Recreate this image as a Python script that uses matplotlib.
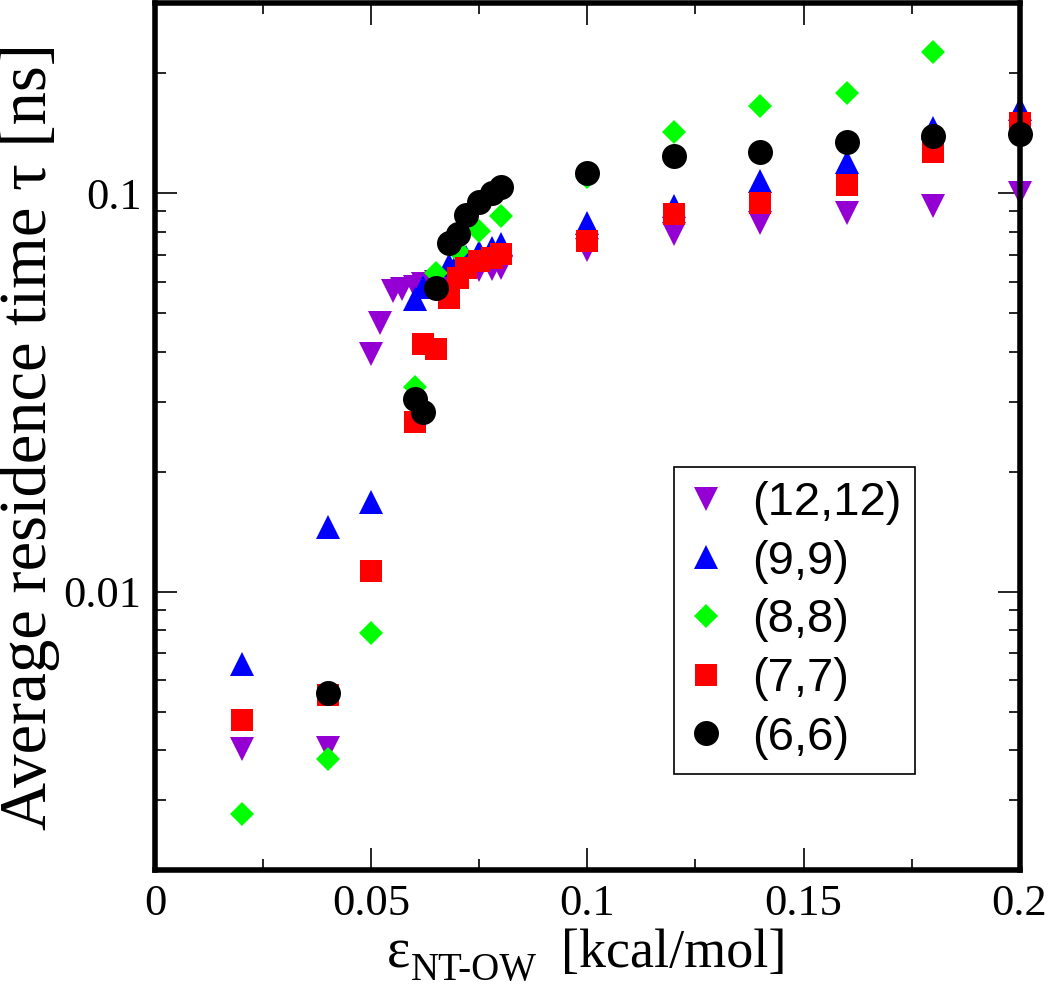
import matplotlib
matplotlib.use("Agg")
import matplotlib.pyplot as plt
from matplotlib.ticker import LogLocator, FixedLocator, NullFormatter, FixedFormatter, MultipleLocator

plt.rcParams['font.family'] = ['Liberation Serif', 'DejaVu Serif']

# ---- data ----
labels = ["(12,12)", "(9,9)", "(8,8)", "(7,7)", "(6,6)"]

x_12 = [0.02, 0.04, 0.05, 0.052, 0.055, 0.057, 0.06, 0.062, 0.065, 0.068, 0.07, 0.072, 0.075, 0.078, 0.08, 0.1, 0.12, 0.14, 0.16, 0.18, 0.2]
y_12 = [0.00404, 0.00405, 0.0394, 0.0471, 0.0568, 0.0574, 0.0580, 0.0590, 0.0600, 0.0610, 0.0620, 0.0630, 0.0640, 0.0645, 0.0650, 0.0720, 0.0790, 0.0840, 0.0890, 0.0930, 0.1000]

x_9 = [0.02, 0.04, 0.05, 0.06, 0.062, 0.065, 0.068, 0.07, 0.072, 0.075, 0.078, 0.08, 0.1, 0.12, 0.14, 0.16, 0.18, 0.2]
y_9 = [0.00659, 0.01455, 0.01675, 0.0542, 0.0580, 0.0620, 0.0660, 0.0675, 0.0690, 0.0710, 0.0730, 0.0745, 0.0842, 0.0928, 0.107, 0.120, 0.146, 0.163]

x_8 = [0.02, 0.04, 0.05, 0.06, 0.065, 0.07, 0.075, 0.08, 0.1, 0.12, 0.14, 0.16, 0.18]
y_8 = [0.00277, 0.0038, 0.00788, 0.0326, 0.0629, 0.0715, 0.0802, 0.0876, 0.110, 0.142, 0.165, 0.178, 0.226]

x_7 = [0.02, 0.04, 0.05, 0.06, 0.062, 0.065, 0.068, 0.07, 0.072, 0.075, 0.078, 0.08, 0.1, 0.12, 0.14, 0.16, 0.18, 0.2]
y_7 = [0.00477, 0.0055, 0.0113, 0.0267, 0.0418, 0.0406, 0.0545, 0.0611, 0.0648, 0.0675, 0.0687, 0.0703, 0.0757, 0.0887, 0.0946, 0.1047, 0.1267, 0.150]

x_6 = [0.04, 0.06, 0.062, 0.065, 0.068, 0.07, 0.072, 0.075, 0.078, 0.08, 0.1, 0.12, 0.14, 0.16, 0.18, 0.2]
y_6 = [0.00557, 0.0304, 0.0282, 0.0577, 0.0749, 0.0789, 0.0881, 0.0949, 0.100, 0.1035, 0.1123, 0.124, 0.127, 0.134, 0.139, 0.1406]

xticks = [0, 0.05, 0.1, 0.15, 0.2]
xticklabels = ["0", "0.05", "0.1", "0.15", "0.2"]
yticks = [0.01, 0.1]
yticklabels = ["0.01", "0.1"]

# ---- figure ----
W, H = 1050, 989
fig = plt.figure(figsize=(W / 100, H / 100), dpi=100)
ax = fig.add_axes([0.148, 0.120, 0.823, 0.877])

series = [
    (x_12, y_12, 'v', '#9400D3', 17),
    (x_9, y_9, '^', '#0000FF', 17),
    (x_8, y_8, 'D', '#00FF00', 12.5),
    (x_7, y_7, 's', '#FF0000', 15.5),
    (x_6, y_6, 'o', '#000000', 18),
]
for (xs, ys, m, c, ms), lab in zip(series, labels):
    ax.plot(xs, ys, linestyle='none', marker=m, color=c, markersize=ms,
            markeredgewidth=0, label=lab, clip_on=False)

ax.set_yscale('log')
ax.set_xlim(0, 0.2)
ax.set_ylim(0.002, 0.3)

ax.xaxis.set_major_locator(FixedLocator(xticks))
ax.xaxis.set_major_formatter(FixedFormatter(xticklabels))
ax.xaxis.set_minor_locator(MultipleLocator(0.025))
ax.yaxis.set_major_locator(FixedLocator(yticks))
ax.yaxis.set_major_formatter(FixedFormatter(yticklabels))
ax.yaxis.set_minor_locator(LogLocator(base=10, subs=range(2, 10)))
ax.yaxis.set_minor_formatter(NullFormatter())

ax.tick_params(which='both', direction='in', top=True, right=True, width=1.2, labelsize=32, pad=10)
ax.tick_params(which='major', length=16)
ax.tick_params(which='minor', length=8)

for s in ax.spines.values():
    s.set_linewidth(4.0)

# x label built from pieces: large epsilon, lowered subscript, unit
fig.text(387 / W, 1 - 967 / H, 'ε', fontsize=40, ha='left', va='baseline')
fig.text(411 / W, 1 - 980 / H, 'NT-OW', fontsize=28, ha='left', va='baseline')
fig.text(561 / W, 1 - 967 / H, '[kcal/mol]', fontsize=39, ha='left', va='baseline')

ax.set_ylabel('Average residence time τ [ns]', fontsize=48)
ax.yaxis.set_label_coords(-0.110, 0.5)

leg = ax.legend(loc='upper left', bbox_to_anchor=(0.600, 0.465), borderaxespad=0,
                frameon=True, fancybox=False, edgecolor='black', framealpha=1,
                prop={'family': 'Liberation Sans', 'size': 34},
                handletextpad=0.6, labelspacing=0.31, borderpad=0.3, handlelength=0.75,
                markerscale=1.0)
leg.get_frame().set_linewidth(1.2)

fig.savefig('out.png', dpi=100)
